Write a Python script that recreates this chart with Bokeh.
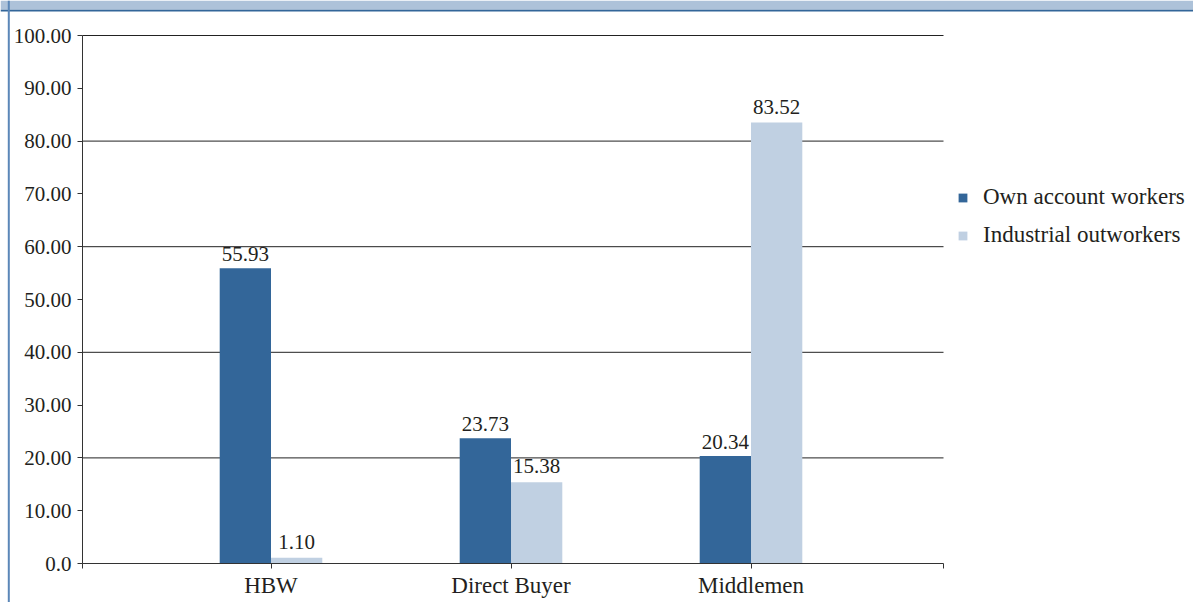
from bokeh.plotting import figure
from bokeh.models import (ColumnDataSource, Range1d, FixedTicker, Legend, LegendItem,
                          BoxAnnotation, NumeralTickFormatter)
from bokeh.transform import dodge
from bokeh.core.properties import value
from bokeh.embed import file_html
from bokeh.resources import INLINE

categories = ["HBW", "Direct Buyer", "Middlemen"]
own_account = [55.93, 23.73, 20.34]
industrial = [1.10, 15.38, 83.52]
series_names = ["Own account workers", "Industrial outworkers"]
y_ticks = [0, 10, 20, 30, 40, 50, 60, 70, 80, 90, 100]
grid_ticks = [20, 40, 60, 80, 100]

DARK = "#336699"
LIGHT = "#c0d0e2"
TEXT = "#231f20"
FONT = "Liberation Serif"

W, H = 1193, 602
# pixel geometry of the plotting area (canvas coords)
PX_LEFT, PX_RIGHT, PX_TOP, PX_BOTTOM = 82, 943, 35, 563
CAT_SPACING_PX = 240.0
FIRST_CAT_PX = 270.5

ypx = (PX_BOTTOM - PX_TOP) / 100.0
x0 = 1 - FIRST_CAT_PX / CAT_SPACING_PX
x1 = x0 + W / CAT_SPACING_PX
y0 = -(H - PX_BOTTOM) / ypx
y1 = 100 + PX_TOP / ypx
xb0 = 1 - (FIRST_CAT_PX - PX_LEFT) / CAT_SPACING_PX
xb1 = 1 + (PX_RIGHT - FIRST_CAT_PX) / CAT_SPACING_PX

pos = list(range(1, len(categories) + 1))
src = ColumnDataSource(dict(
    x=pos, own=own_account, ind=industrial,
    own_lbl=[f"{v:.2f}" for v in own_account],
    ind_lbl=[f"{v:.2f}" for v in industrial],
))

p = figure(width=W, height=H, output_backend="svg", toolbar_location=None,
           x_range=Range1d(x0, x1), y_range=Range1d(y0, y1),
           min_border=0)
p.outline_line_color = None
p.background_fill_color = "white"
p.border_fill_color = "white"
p.xgrid.visible = False
p.ygrid.visible = False

# horizontal gridlines limited to the plotting area
p.segment(x0=[xb0] * len(grid_ticks), x1=[xb1] * len(grid_ticks),
          y0=grid_ticks, y1=grid_ticks, line_color="#222222", line_width=1)

bw = 51.3 / CAT_SPACING_PX
r1 = p.vbar(x=dodge("x", -bw / 2, range=p.x_range), top="own", width=bw, bottom=0,
            source=src, fill_color=DARK, line_color=None)
r2 = p.vbar(x=dodge("x", bw / 2, range=p.x_range), top="ind", width=bw, bottom=0,
            source=src, fill_color=LIGHT, line_color=None)

p.text(x=dodge("x", -bw / 2, range=p.x_range), y="own", text="own_lbl", source=src,
       text_align="center", text_baseline="bottom", y_offset=-7,
       text_font=value(FONT), text_font_size="21px", text_color=TEXT)
p.text(x=dodge("x", bw / 2, range=p.x_range), y="ind", text="ind_lbl", source=src,
       text_align="center", text_baseline="bottom", y_offset=-9,
       text_font=value(FONT), text_font_size="21px", text_color=TEXT)

# y axis (drawn inside the full-canvas frame)
ya = p.yaxis[0]
ya.fixed_location = xb0
ya.bounds = (0, 100)
ya.ticker = FixedTicker(ticks=y_ticks)
ya.formatter = NumeralTickFormatter(format="0.00")
ya.major_label_overrides = {0: "0.0"}
ya.major_tick_out = 5
ya.major_tick_in = 0
ya.minor_tick_out = 0
ya.minor_tick_in = 0
ya.major_label_standoff = 6
ya.axis_line_color = "#333333"
ya.major_tick_line_color = "#333333"
ya.major_label_text_font = FONT
ya.major_label_text_font_size = "21px"
ya.major_label_text_color = TEXT

# x axis
xa = p.xaxis[0]
xa.fixed_location = 0
xa.bounds = (xb0, xb1)
x_ticks = [xb0] + pos + [xb1]
xa.ticker = FixedTicker(ticks=x_ticks)
overrides = {xb0: "", xb1: ""}
for i, c in zip(pos, categories):
    overrides[i] = c
xa.major_label_overrides = overrides
xa.major_tick_out = 5
xa.major_tick_in = 0
xa.minor_tick_out = 0
xa.minor_tick_in = 0
xa.major_label_standoff = 4
xa.axis_line_color = "#333333"
xa.major_tick_line_color = "#333333"
xa.major_label_text_font = FONT
xa.major_label_text_font_size = "23px"
xa.major_label_text_color = TEXT

legend = Legend(items=[LegendItem(label=series_names[0], renderers=[r1]),
                       LegendItem(label=series_names[1], renderers=[r2])],
                location=(957, 602 - 248), orientation="vertical",
                glyph_width=11, glyph_height=11, label_height=24, spacing=12,
                label_standoff=15, padding=0, margin=0,
                border_line_color=None, background_fill_alpha=0,
                label_text_font=FONT, label_text_font_size="23px", label_text_color=TEXT)
p.add_layout(legend, "center")

# header strip and left border of the framed figure
def strip(l, r, t, b, color):
    p.add_layout(BoxAnnotation(left=l, right=r, top=t, bottom=b,
                               left_units="canvas", right_units="canvas",
                               top_units="canvas", bottom_units="canvas",
                               fill_color=color, fill_alpha=1, line_color=None,
                               level="overlay"))

strip(0, W, 0, 9.3, "#adc2d9")
strip(0, W, 9.3, 11, "#336699")
strip(7.3, 9.3, 0, H, "#5b87b8")

open("out.html", "w").write(file_html(p, INLINE))
